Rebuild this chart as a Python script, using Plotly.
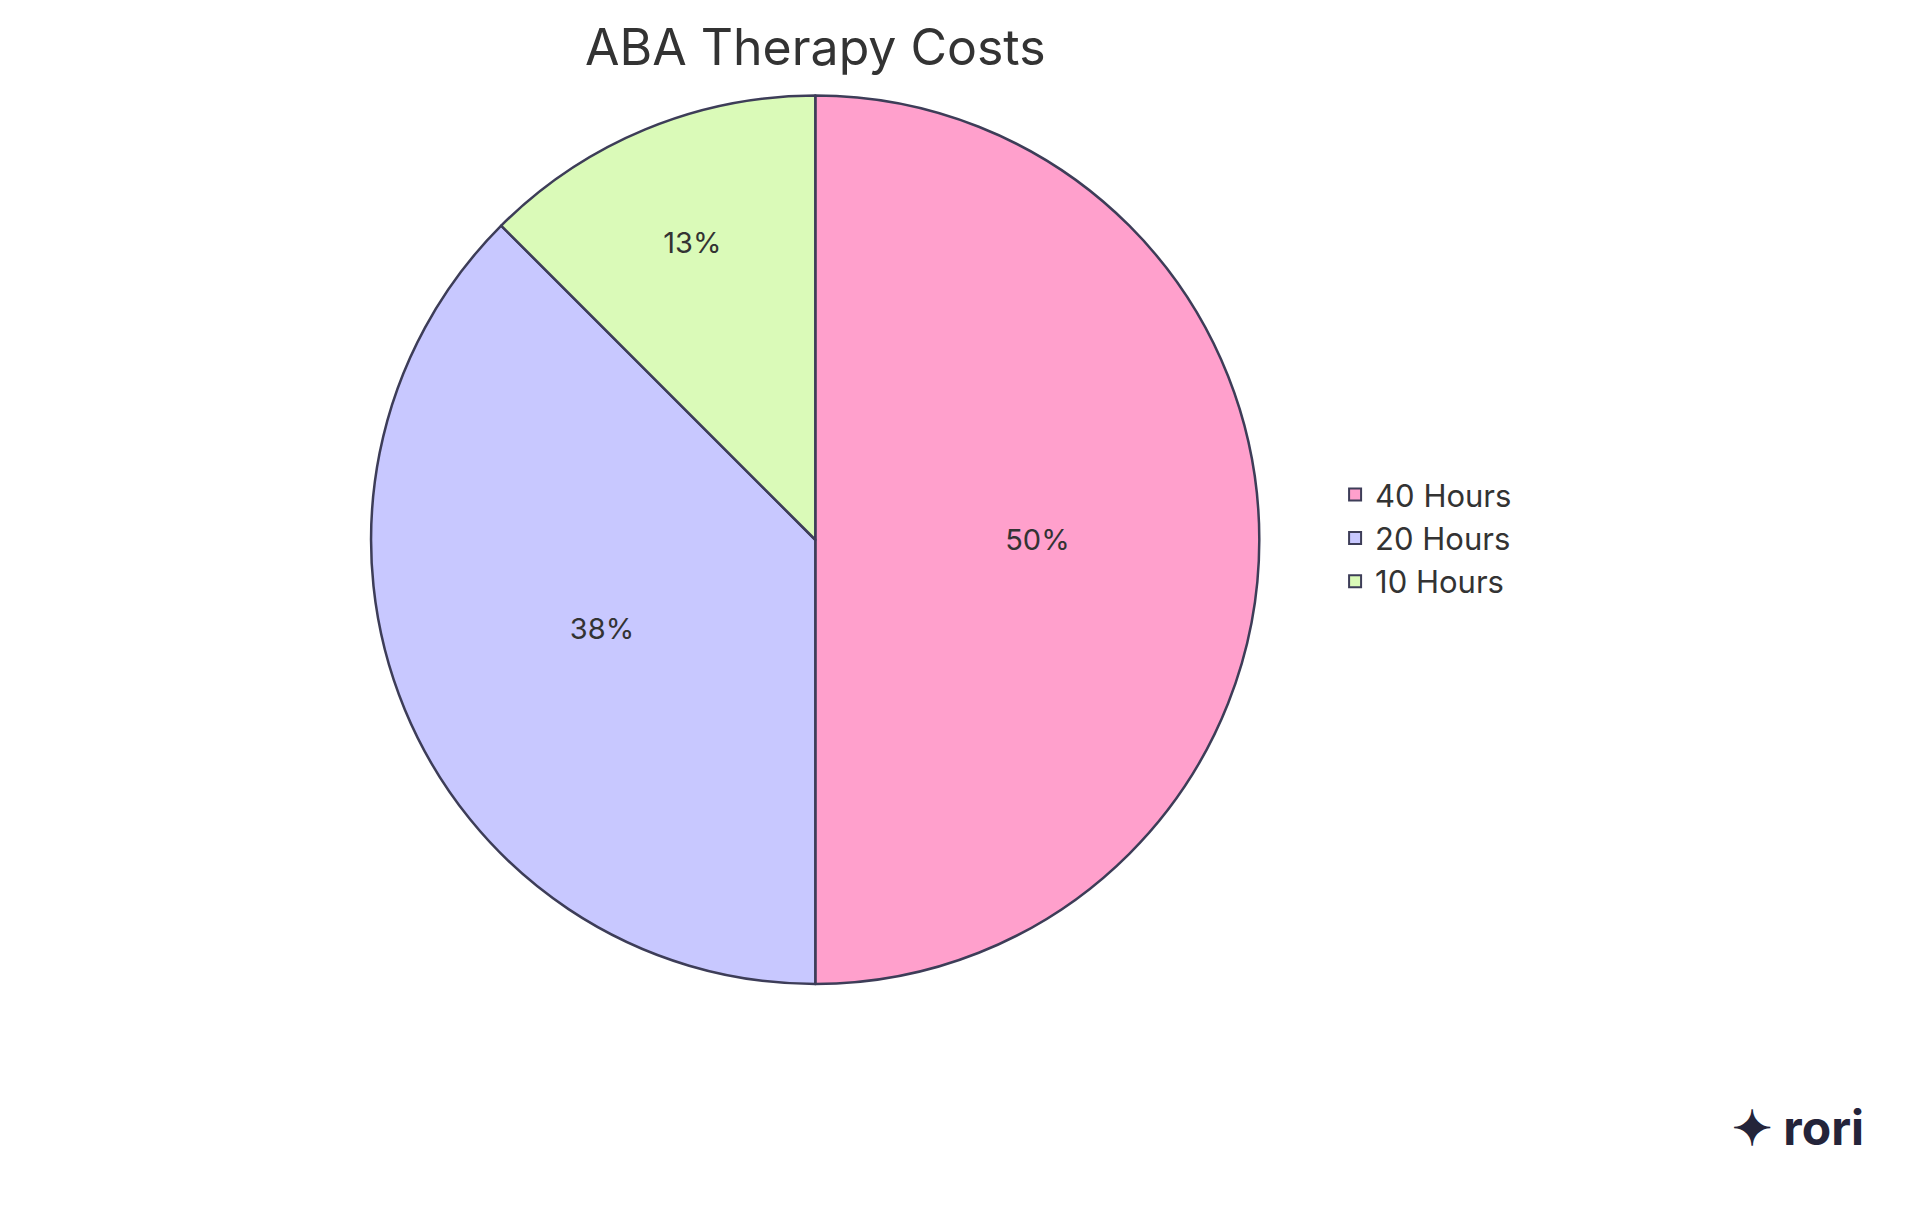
import plotly.graph_objects as go

labels = ["40 Hours", "20 Hours", "10 Hours"]
values = [50, 37.5, 12.5]
colors = ["#FFA0CC", "#C8C8FF", "#DAFAB8"]

fig = go.Figure()
fig.add_trace(go.Pie(
    labels=labels, values=values, sort=False, direction="clockwise", rotation=0,
    marker=dict(colors=colors, line=dict(color="#3D3D58", width=2.5)),
    textinfo="percent", texttemplate="%{percent:.0%}", textposition="inside",
    insidetextorientation="horizontal",
    textfont=dict(family="Inter", size=29, color="#333333"),
    domain=dict(x=[0.19, 0.658], y=[0.186, 0.927]),
    hoverinfo="label+percent",
))

fig.update_layout(
    title=dict(text="ABA Therapy Costs", x=0.424, xanchor="center", y=0.967, yanchor="middle",
               font=dict(family="Inter", size=50, color="#333333")),
    legend=dict(x=0.697, y=0.558, xanchor="left", yanchor="middle",
                font=dict(family="Inter", size=31, color="#333333"), itemsizing="constant"),
    margin=dict(l=0, r=0, t=0, b=0),
    paper_bgcolor="white",
    font=dict(family="Inter"),
)
fig.add_annotation(text="<b>✦ rori</b>", x=0.94, y=0.04, xref="paper", yref="paper",
                   xanchor="center", showarrow=False,
                   font=dict(family="Inter", size=48, color="#24243a"))

fig.write_html("out.html")
